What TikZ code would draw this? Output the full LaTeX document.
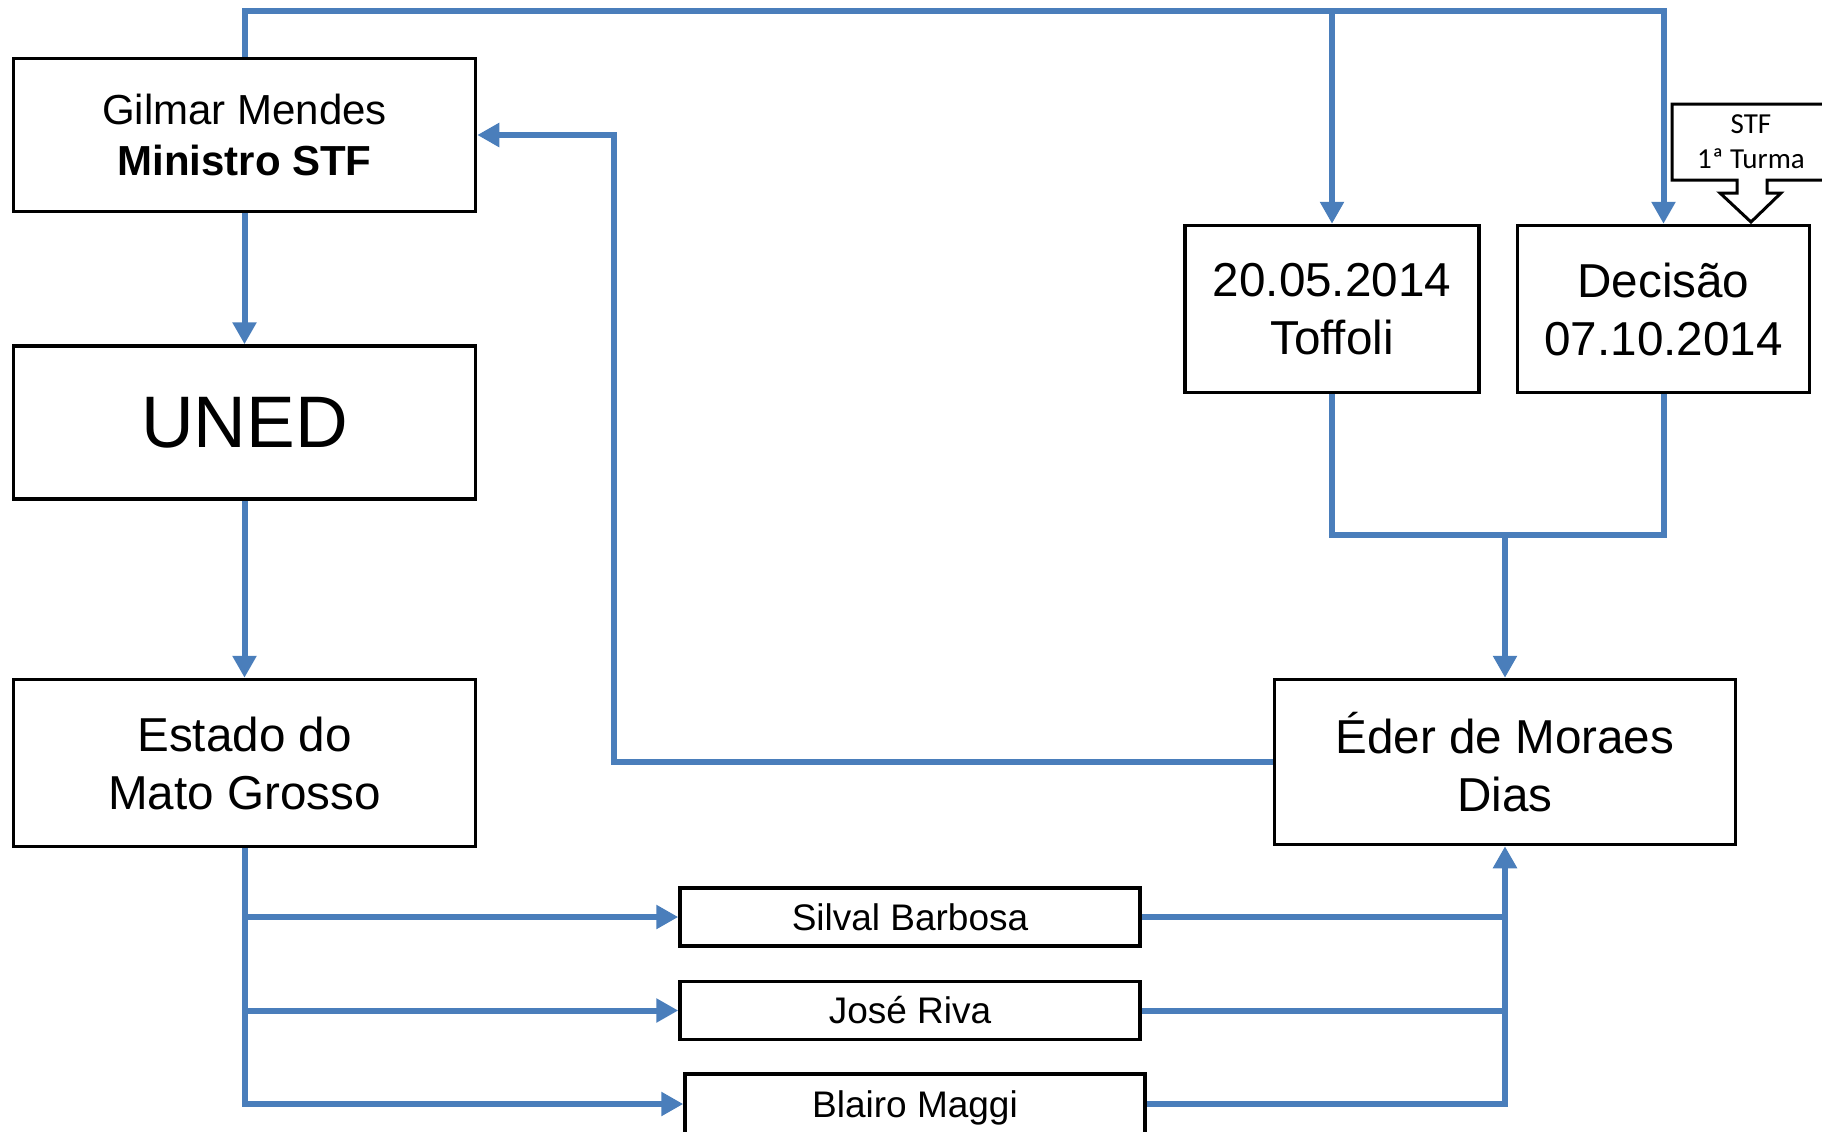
\documentclass[tikz,border=0pt]{standalone}
\usepackage{fontspec}
\setmainfont{Liberation Sans}
\newfontfamily\calloutfont{Carlito}
\usetikzlibrary{arrows.meta, positioning}
\definecolor{linkblue}{RGB}{74,126,187}

\begin{document}
\begin{tikzpicture}[x=0.5pt,y=-0.5pt,
    box/.style={draw, line width=1.75pt, align=center, inner sep=0pt},
    link/.style={draw=linkblue, line width=3pt},
    arr/.style={link, -{Triangle[width=11.5pt,length=11pt]}},
    bigtext/.style={font=\fontsize{23.8}{29}\selectfont},
    nametext/.style={font=\fontsize{18.5}{22}\selectfont}]

\useasboundingbox (0,0) rectangle (1822,1131);

% Left column
\node[box,
    minimum width=231pt,
    minimum height=76.5pt,
    font=\fontsize{21}{25.5}\selectfont
] (gilmar) at (244.5,135) {Gilmar Mendes\\\textbf{Ministro STF}};

\node[box,
    below=65.5pt of gilmar,
    minimum width=231pt,
    minimum height=76.5pt,
    font=\fontsize{36.5}{40}\selectfont
] (uned) {UNED};

\node[box, bigtext,
    below=88.5pt of uned,
    minimum width=231pt,
    minimum height=83.5pt
] (estado) {Estado do\\Mato Grosso};

% Right column
\node[box, bigtext,
    minimum width=147pt,
    minimum height=83.5pt
] (toffoli) at (1332,309) {20.05.2014\\Toffoli};

\node[box, bigtext,
    right=17.5pt of toffoli,
    minimum width=146pt,
    minimum height=83.5pt
] (decisao) {Decisão\\07.10.2014};

\node[box, bigtext,
    minimum width=230.5pt,
    minimum height=82.5pt
] (eder) at (1505,762) {Éder de Moraes\\Dias};

% Names
\node[box, nametext,
    minimum width=230pt,
    minimum height=29pt
] (silval) at (910,917) {Silval Barbosa};

\node[box, nametext,
    below=16pt of silval,
    minimum width=230pt,
    minimum height=29pt
] (jose) {José Riva};

\node[box, nametext,
    below=14.5pt of jose,
    minimum width=230pt,
    minimum height=34pt, xshift=2.5pt, yshift=-1pt
] (blairo) {Blairo Maggi};

% Callout
\draw[line width=1.5pt] (1672,104) -- (1840,104) -- (1840,180) -- (1767,180) -- (1767,193)
    -- (1781,193) -- (1751,222) -- (1720,193) -- (1737,193) -- (1737,180) -- (1672,180) -- cycle;
\node[font=\calloutfont\fontsize{14.5}{17.5}\selectfont, align=center] (stf) at (1751,142) {STF\\1ª Turma};

% Arrows
\coordinate (ctop) at (244.5,11);
\coordinate (cjoin) at (1505,535);
\coordinate (cback) at (614,135);
\draw[arr] (gilmar.north) -- (ctop) -| (decisao.north);
\draw[arr] (ctop -| toffoli.north) -- (toffoli.north);
\draw[arr] (gilmar) -- (uned);
\draw[arr] (uned) -- (estado);
\draw[link] (toffoli.south) |- (cjoin -| decisao.south) -- (decisao.south);
\draw[arr] (cjoin) -- (eder.north);
\draw[arr] (eder.west) -| (cback) -- (gilmar.east);
\draw[arr] (estado.south) |- (silval.west);
\draw[arr] (estado.south) |- (jose.west);
\draw[arr] (estado.south) |- ([yshift=2pt]blairo.west);
\draw[link] (silval.east) -- (silval.east -| eder.south);
\draw[link] (jose.east) -- (jose.east -| eder.south);
\draw[arr] ([yshift=2pt]blairo.east) -| (eder.south);
\end{tikzpicture}
\end{document}
